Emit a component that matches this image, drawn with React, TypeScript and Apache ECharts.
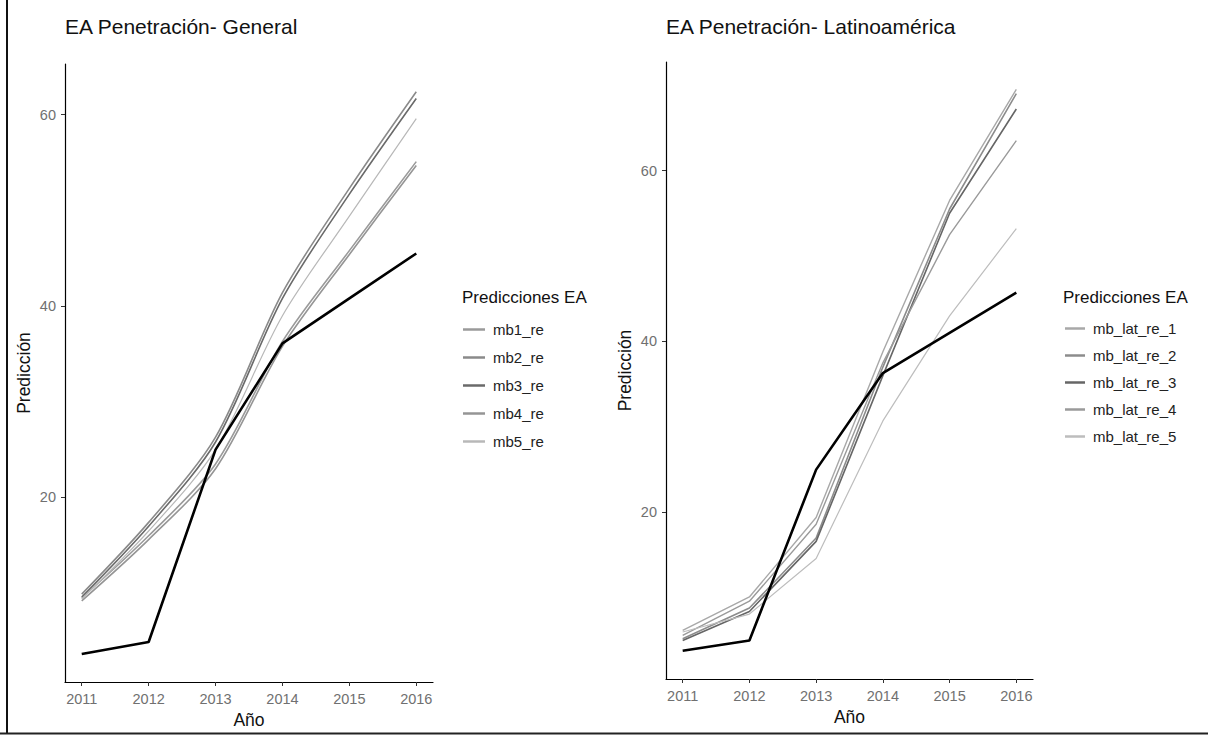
import React, { useEffect, useRef } from "react";
import * as echarts from "echarts";

const years = [2011, 2012, 2013, 2014, 2015, 2016];
const yTicks = [20, 40, 60];

// General panel
const genReal = [3.65, 4.9, 25.0, 36.1, 40.8, 45.5];
const genNames = ["mb1_re", "mb2_re", "mb3_re", "mb4_re", "mb5_re"];
const mb1 = [9.5, 16.0, 23.5, 36.3, 45.8, 55.1];
const mb2 = [9.9, 17.4, 26.3, 41.4, 52.3, 62.4];
const mb3 = [9.6, 17.0, 25.8, 40.8, 51.7, 61.7];
const mb4 = [9.2, 15.6, 23.0, 35.8, 45.4, 54.7];
const mb5 = [9.4, 16.5, 25.0, 39.0, 49.4, 59.6];
const genSeries = [mb1, mb2, mb3, mb4, mb5];
const genColors = ["#9a9a9a", "#8a8a8a", "#6a6a6a", "#959595", "#b8b8b8"];
const genWidths = [1.6, 1.6, 1.6, 1.6, 1.2];

// Latinoamérica panel
const latReal = [3.8, 5.0, 25.0, 36.3, 41.0, 45.7];
const latNames = ["mb_lat_re_1", "mb_lat_re_2", "mb_lat_re_3", "mb_lat_re_4", "mb_lat_re_5"];
const lat1 = [6.2, 10.1, 19.4, 38.8, 56.5, 69.5];
const lat2 = [5.2, 8.8, 17.0, 37.0, 55.5, 69.0];
const lat3 = [5.0, 8.4, 16.6, 36.0, 55.0, 67.2];
const lat4 = [5.6, 9.6, 18.6, 37.5, 52.5, 63.5];
const lat5 = [6.0, 8.1, 14.6, 30.7, 43.0, 53.2];
const latSeries = [lat1, lat2, lat3, lat4, lat5];
const latColors = ["#a8a8a8", "#8c8c8c", "#666666", "#9a9a9a", "#bdbdbd"];
const latWidths = [1.4, 1.6, 1.6, 1.4, 1.2];

const FONT = "'Liberation Sans', Arial, sans-serif";

function pairs(vals: number[]) {
  return years.map((y, i) => [y, vals[i]]);
}

export default function App() {
  const ref = useRef<HTMLDivElement>(null);
  useEffect(() => {
    if (!ref.current) return;
    const chart = echarts.init(ref.current, undefined, { renderer: "svg" });

    const xAxisBase = (gridIndex: number) => ({
      type: "value",
      gridIndex,
      min: 2010.75,
      max: 2016.25,
      name: "Año",
      nameLocation: "middle",
      nameGap: 29,
      nameTextStyle: { fontSize: 17.5, color: "#111", fontFamily: FONT },
      axisLine: { show: true, lineStyle: { color: "#000", width: 1.2 } },
      axisTick: { show: true, length: 4, lineStyle: { color: "#333" }, customValues: years },
      axisLabel: {
        show: true,
        margin: 9,
        fontSize: 14.5,
        color: "#707070",
        fontFamily: FONT,
        customValues: years,
        formatter: (v: number) => String(v),
      },
      splitLine: { show: false },
    });

    const yAxisBase = (gridIndex: number, min: number, max: number) => ({
      type: "value",
      gridIndex,
      min,
      max,
      name: "Predicción",
      nameLocation: "middle",
      nameGap: 32,
      nameRotate: 90,
      nameTextStyle: { fontSize: 17.5, color: "#111", fontFamily: FONT },
      axisLine: { show: true, lineStyle: { color: "#000", width: 1.2 } },
      axisTick: { show: true, length: 4, lineStyle: { color: "#333" }, customValues: yTicks },
      axisLabel: {
        show: true,
        margin: 9,
        fontSize: 14.5,
        color: "#707070",
        fontFamily: FONT,
        customValues: yTicks,
      },
      splitLine: { show: false },
    });

    const series: any[] = [];
    genSeries.forEach((vals, i) => {
      series.push({
        name: genNames[i],
        type: "line",
        xAxisIndex: 0,
        yAxisIndex: 0,
        data: pairs(vals),
        symbol: "none",
        smooth: 0.3,
        lineStyle: { color: genColors[i], width: genWidths[i] },
        itemStyle: { color: genColors[i] },
      });
    });
    series.push({
      name: "Real General",
      type: "line",
      xAxisIndex: 0,
      yAxisIndex: 0,
      data: pairs(genReal),
      symbol: "none",
      lineStyle: { color: "#000", width: 2.6 },
      itemStyle: { color: "#000" },
    });
    latSeries.forEach((vals, i) => {
      series.push({
        name: latNames[i],
        type: "line",
        xAxisIndex: 1,
        yAxisIndex: 1,
        data: pairs(vals),
        symbol: "none",
        lineStyle: { color: latColors[i], width: latWidths[i] },
        itemStyle: { color: latColors[i] },
      });
    });
    series.push({
      name: "Real Latinoamérica",
      type: "line",
      xAxisIndex: 1,
      yAxisIndex: 1,
      data: pairs(latReal),
      symbol: "none",
      lineStyle: { color: "#000", width: 2.6 },
      itemStyle: { color: "#000" },
    });

    const legendBase = {
      orient: "vertical",
      icon: "rect",
      itemHeight: 2.5,
      selectedMode: false,
      padding: 0,
      textStyle: { fontSize: 15, color: "#222", fontFamily: FONT, lineHeight: 15, padding: [0, 0, 0, 3] },
    };

    chart.setOption({
      animation: false,
      backgroundColor: "#fff",
      title: [
        {
          text: "EA Penetración- General",
          left: 65,
          top: 16,
          padding: 0,
          textStyle: { fontSize: 21, fontWeight: "normal", color: "#111", fontFamily: FONT },
        },
        {
          text: "EA Penetración- Latinoamérica",
          left: 666,
          top: 16,
          padding: 0,
          textStyle: { fontSize: 21, fontWeight: "normal", color: "#111", fontFamily: FONT },
        },
      ],
      legend: [
        { ...legendBase, data: genNames, left: 463, top: 322, itemWidth: 22, itemGap: 13 },
        { ...legendBase, data: latNames, left: 1065, top: 321, itemWidth: 20, itemGap: 12 },
      ],
      grid: [
        { left: 65, top: 64, width: 368, height: 618, containLabel: false, outerBoundsMode: "none" },
        { left: 666, top: 62, width: 367, height: 617, containLabel: false, outerBoundsMode: "none" },
      ],
      xAxis: [xAxisBase(0), xAxisBase(1)],
      yAxis: [yAxisBase(0, 0.72, 65.3), yAxisBase(1, 0.5, 72.7)],
      series,
      graphic: [
        {
          type: "text",
          left: 462,
          top: 289,
          style: { text: "Predicciones EA", fontSize: 17, fill: "#111", fontFamily: FONT },
        },
        {
          type: "text",
          left: 1063,
          top: 289,
          style: { text: "Predicciones EA", fontSize: 17, fill: "#111", fontFamily: FONT },
        },
        {
          type: "line",
          shape: { x1: 7, y1: 0, x2: 7, y2: 734 },
          style: { stroke: "#111", lineWidth: 2 },
        },
        {
          type: "line",
          shape: { x1: 0, y1: 733.5, x2: 1208, y2: 733.5 },
          style: { stroke: "#222", lineWidth: 2 },
        },
      ],
    });

    return () => chart.dispose();
  }, []);

  return (
    <div
      ref={ref}
      style={{ position: "fixed", left: 0, top: 0, width: 1208, height: 735, background: "#fff" }}
    />
  );
}
